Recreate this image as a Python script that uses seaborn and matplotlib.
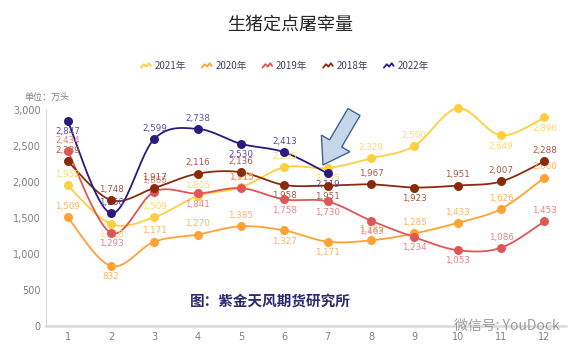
import numpy as np
import pandas as pd
import matplotlib
matplotlib.use("Agg")
import matplotlib.pyplot as plt
import seaborn as sns
from matplotlib.lines import Line2D
from matplotlib.legend_handler import HandlerBase
from matplotlib.patches import FancyArrow
from matplotlib.ticker import FuncFormatter

months = list(range(1, 13))
y2021 = [1952, 1418, 1509, 1805, 1926, 2205, 2195, 2329, 2500, 3023, 2649, 2896]
y2020 = [1509, 832, 1171, 1270, 1385, 1327, 1171, 1189, 1285, 1433, 1626, 2060]
y2019 = [2434, 1293, 1866, 1841, 1915, 1758, 1730, 1463, 1234, 1053, 1086, 1453]
y2018 = [2289, 1748, 1917, 2116, 2136, 1958, 1951, 1967, 1923, 1951, 2007, 2288]
y2022 = [2847, 1566, 2599, 2738, 2530, 2413, 2119]

series = ["2021年", "2020年", "2019年", "2018年", "2022年"]
values = [y2021, y2020, y2019, y2018, y2022]

# styling
colors = ["#FFCF3F", "#FFA235", "#DF5656", "#8A2A0C", "#2B1A7C"]
label_colors = ["#FFD96A", "#FFB45E", "#E98383", "#A85A45", "#5C4FA0"]
label_side = ["ABAAAABAABBB", "ABAAABBAAAAA", "ABABABBBBBAA", "AAAAABBABAAA", "BAAABAB"]

plt.rcParams["font.family"] = ["Noto Sans CJK SC", "DejaVu Sans"]


def smooth(xs, ys, n=24):
    p = np.column_stack([xs, ys]).astype(float)
    p = np.vstack([p[0], p, p[-1]])
    out = []
    for i in range(1, len(p) - 2):
        p0, p1, p2, p3 = p[i - 1], p[i], p[i + 1], p[i + 2]
        c1 = p1 + (p2 - p0) / 6
        c2 = p2 - (p3 - p1) / 6
        t = np.linspace(0, 1, n)[:, None]
        seg = (1 - t) ** 3 * p1 + 3 * (1 - t) ** 2 * t * c1 + 3 * (1 - t) * t ** 2 * c2 + t ** 3 * p2
        out.append(seg if i == 1 else seg[1:])
    out = np.vstack(out)
    return out[:, 0], out[:, 1]


class ZigZag(HandlerBase):
    def create_artists(self, legend, orig, xd, yd, w, h, fs, trans):
        xs = np.array([0, 0.3, 0.55, 0.8, 1.0]) * w - xd
        ys = np.array([0.2, 0.7, 0.35, 0.85, 0.45]) * h - yd
        ln = Line2D(xs, ys, color=orig.get_color(), lw=1.3, transform=trans)
        return [ln]


fig = plt.figure(figsize=(5.78, 3.55), dpi=100)
ax = fig.add_axes([46 / 578, 1 - 326 / 355, 520 / 578, 216 / 355])
sns.set_style("white")
plt.rcParams["font.family"] = ["Noto Sans CJK SC", "DejaVu Sans"]

handles = []
for name, vals, c, lc, side in zip(series, values, colors, label_colors, label_side):
    xs = months[:len(vals)]
    sx, sy = smooth(xs, vals)
    curve = pd.DataFrame({"x": sx, "y": sy})
    sns.lineplot(data=curve, x="x", y="y", ax=ax, color=c, lw=1.3, sort=False, clip_on=False)
    pts = pd.DataFrame({"month": xs, "v": vals})
    sns.scatterplot(data=pts, x="month", y="v", ax=ax, color=c, s=42, edgecolor=c, linewidth=0, clip_on=False, zorder=5)
    for x, v, s in zip(xs, vals, side):
        off = 4.5 if s == "A" else -4.5
        ax.annotate(f"{v:,}", (x, v), xytext=(0, off), textcoords="offset points",
                    ha="center", va="bottom" if s == "A" else "top",
                    fontsize=6.3, color=lc, family=["DejaVu Sans"])
    handles.append(Line2D([], [], color=c))

ax.set_xlim(0.5, 12.5)
ax.set_ylim(0, 3000)
ax.set_xticks(months)
ax.set_yticks(range(0, 3001, 500))
ax.yaxis.set_major_formatter(FuncFormatter(lambda v, p: f"{int(v):,}"))
ax.set_xlabel("")
ax.set_ylabel("")
ax.tick_params(length=0, labelsize=7, colors="#7F7F7F", pad=4)
for lab in ax.get_xticklabels() + ax.get_yticklabels():
    lab.set_family("DejaVu Sans")
for sp in ["top", "right"]:
    ax.spines[sp].set_visible(False)
ax.spines["left"].set_color("#D9D9D9")
ax.spines["left"].set_linewidth(0.8)
ax.spines["bottom"].set_color("#D9D9D9")
ax.spines["bottom"].set_linewidth(1.8)
ax.grid(False)

fig.text(290 / 578, 1 - 25 / 355, "生猪定点屠宰量", ha="center", va="center", fontsize=13, color="#262626")
fig.text(25 / 578, 1 - 97 / 355, "单位：万头", ha="left", va="center", fontsize=6.5, color="#7F7F7F")

fig.legend(handles, series, handler_map={Line2D: ZigZag()}, loc="center", bbox_to_anchor=(285 / 578, 1 - 66 / 355),
           ncol=5, frameon=False, fontsize=7, labelcolor="#404060", handlelength=1.0,
           handletextpad=0.4, columnspacing=1.6)

fig.text(270 / 578, 1 - 302 / 355, "图：紫金天风期货研究所", ha="center", va="center",
         fontsize=10.5, fontweight="bold", color="#2B2A6E")
fig.text(560 / 578, 1 - 326 / 355, "微信号: YouDock", ha="right", va="center",
         fontsize=10, color="#8C8C8C", alpha=0.85)

arrow = FancyArrow(3.54, 3.55 - 1.12, -0.31, -0.53, width=0.14, head_width=0.33, head_length=0.25,
                   length_includes_head=True, transform=fig.dpi_scale_trans,
                   facecolor="#C6D7EB", edgecolor="#41638F", lw=1.0, zorder=10)
fig.add_artist(arrow)

fig.savefig("out.png", dpi=100)
plt.close(fig)
